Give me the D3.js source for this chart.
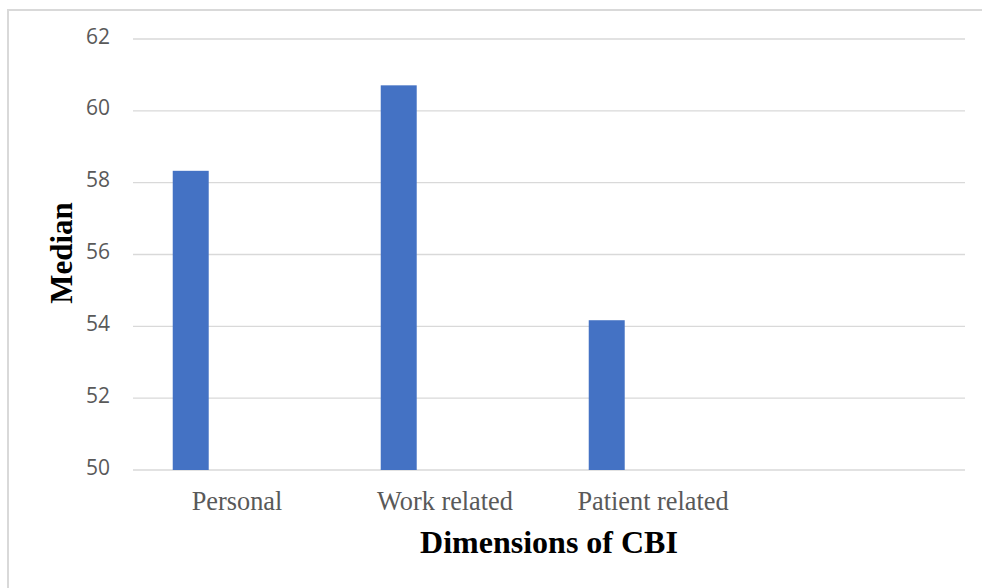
<!DOCTYPE html>
<html>
<head>
<meta charset="utf-8">
<script src="https://cdn.jsdelivr.net/npm/d3@7"></script>
<style>
  html, body { margin: 0; padding: 0; background: #ffffff; }
  svg { display: block; }
</style>
</head>
<body>
<svg id="chart" width="982" height="588"></svg>
<script>
// CBI dimension medians
const categories = ["Personal", "Work related", "Patient related"];
const medians = [58.33, 60.71, 54.17];
const yTicks = [50, 52, 54, 56, 58, 60, 62];
const yTitle = "Median";
const xTitle = "Dimensions of CBI";

const W = 982, H = 588;
const plot = { left: 133, right: 965, top: 39, bottom: 470 };

const svg = d3.select("#chart");

// chart frame (runs off the right and bottom edges)
svg.append("rect")
  .attr("x", 8).attr("y", 10)
  .attr("width", W + 20).attr("height", H + 20)
  .attr("fill", "none")
  .attr("stroke", "#d9d9d9")
  .attr("stroke-width", 2);

// the category axis has one unused slot at the end
const slots = [...categories, ""];

const xLabel = d3.scaleBand()
  .domain(slots)
  .range([plot.left, plot.right]);

const xBar = d3.scaleBand()
  .domain(slots)
  .range([plot.left, plot.right])
  .paddingInner(0.827)
  .paddingOuter(0.4135)
  .align(0.231);

const y = d3.scaleLinear()
  .domain([50, 62])
  .range([plot.bottom, plot.top]);

// gridlines
svg.append("g")
  .selectAll("line")
  .data(yTicks)
  .join("line")
  .attr("x1", plot.left).attr("x2", plot.right)
  .attr("y1", d => y(d)).attr("y2", d => y(d))
  .attr("stroke", "#d9d9d9")
  .attr("stroke-width", 1.4);

// y tick labels
svg.append("g")
  .selectAll("text")
  .data(yTicks)
  .join("text")
  .attr("x", 110)
  .attr("y", d => y(d) + 4.5)
  .attr("text-anchor", "end")
  .attr("font-family", "'Open Sans', sans-serif")
  .attr("font-size", 21)
  .attr("fill", "#595959")
  .text(d => d);

// bars
svg.append("g")
  .selectAll("rect")
  .data(categories.map((c, i) => ({ c, v: medians[i] })))
  .join("rect")
  .attr("x", d => xBar(d.c))
  .attr("width", xBar.bandwidth())
  .attr("y", d => y(d.v))
  .attr("height", d => y(50) - y(d.v))
  .attr("fill", "#4472c4");

// category labels
svg.append("g")
  .selectAll("text")
  .data(categories)
  .join("text")
  .attr("x", d => xLabel(d) + xLabel.bandwidth() / 2)
  .attr("y", 510)
  .attr("text-anchor", "middle")
  .attr("font-family", "'Liberation Serif', 'Times New Roman', serif")
  .attr("font-size", 26.3)
  .attr("fill", "#595959")
  .text(d => d);

// axis titles
svg.append("text")
  .attr("x", (plot.left + plot.right) / 2)
  .attr("y", 553)
  .attr("text-anchor", "middle")
  .attr("font-family", "'Liberation Serif', 'Times New Roman', serif")
  .attr("font-weight", "bold")
  .attr("font-size", 32)
  .attr("fill", "#000000")
  .text(xTitle);

svg.append("text")
  .attr("transform", "translate(72,253) rotate(-90)")
  .attr("text-anchor", "middle")
  .attr("font-family", "'Liberation Serif', 'Times New Roman', serif")
  .attr("font-weight", "bold")
  .attr("font-size", 31)
  .attr("fill", "#000000")
  .text(yTitle);
</script>
</body>
</html>
